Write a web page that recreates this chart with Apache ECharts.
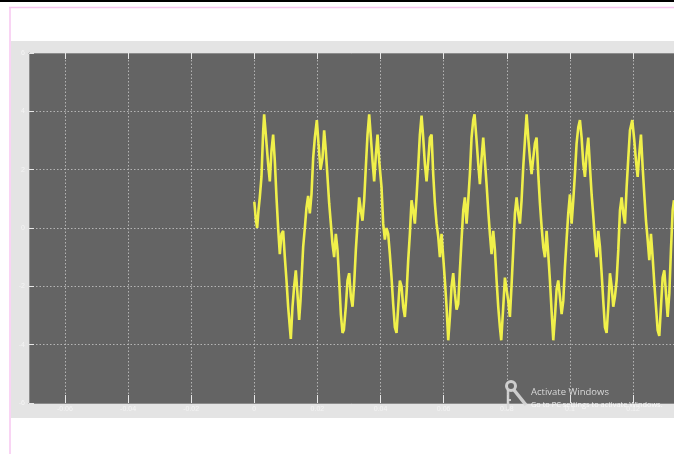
<!DOCTYPE html>
<html>
<head>
<meta charset="utf-8">
<script src="https://cdn.jsdelivr.net/npm/echarts@6/dist/echarts.min.js"></script>
<style>
html,body{margin:0;padding:0;background:#fff;}
#chart{width:674px;height:454px;}
</style>
</head>
<body>
<div id="chart"></div>
<script>
// ---- data ----
const xMin = -0.07138;
const xMax = 0.13297;
const yMin = -6;
const yMax = 6;
const yStep = 2;
const xTickValues = [-0.06, -0.04, -0.02, 0, 0.02, 0.04, 0.06, 0.08, 0.1, 0.12];
const xTickLabels = ['-0.06', '-0.04', '-0.02', '0', '0.02', '0.04', '0.06', '0.08', '0.1', '0.12'];

const timeSec = [
0.00000,0.00048,0.00090,0.00132,0.00174,0.00227,0.00280,0.00312,0.00365,0.00438,
0.00491,0.00544,0.00597,0.00650,0.00703,0.00755,0.00808,0.00861,0.00914,0.00967,
0.01020,0.01072,0.01125,0.01157,0.01210,0.01262,0.01315,0.01358,0.01421,0.01463,
0.01506,0.01548,0.01601,0.01653,0.01706,0.01759,0.01812,0.01865,0.01918,0.01981,
0.02034,0.02097,0.02161,0.02213,0.02266,0.02319,0.02372,0.02425,0.02478,0.02530,
0.02583,0.02636,0.02689,0.02742,0.02795,0.02837,0.02900,0.02953,0.03006,0.03059,
0.03112,0.03164,0.03217,0.03270,0.03323,0.03376,0.03428,0.03481,0.03534,0.03587,
0.03640,0.03693,0.03745,0.03798,0.03851,0.03904,0.03957,0.04031,0.04083,0.04136,
0.04189,0.04242,0.04295,0.04348,0.04400,0.04453,0.04506,0.04559,0.04612,0.04665,
0.04717,0.04770,0.04823,0.04876,0.04929,0.04982,0.05034,0.05087,0.05140,0.05193,
0.05246,0.05299,0.05351,0.05404,0.05457,0.05510,0.05563,0.05616,0.05668,0.05721,
0.05774,0.05827,0.05880,0.05932,0.05985,0.06038,0.06091,0.06144,0.06197,0.06249,
0.06302,0.06355,0.06408,0.06461,0.06514,0.06566,0.06619,0.06672,0.06725,0.06778,
0.06830,0.06883,0.06936,0.06978,0.07042,0.07095,0.07147,0.07200,0.07253,0.07306,
0.07359,0.07411,0.07464,0.07517,0.07570,0.07623,0.07676,0.07728,0.07781,0.07824,
0.07887,0.07940,0.07993,0.08045,0.08098,0.08151,0.08204,0.08257,0.08310,0.08362,
0.08415,0.08468,0.08521,0.08574,0.08627,0.08679,0.08732,0.08785,0.08838,0.08891,
0.08943,0.08996,0.09049,0.09102,0.09155,0.09208,0.09260,0.09313,0.09366,0.09419,
0.09472,0.09525,0.09577,0.09630,0.09683,0.09736,0.09789,0.09841,0.09894,0.09947,
0.10000,0.10053,0.10106,0.10158,0.10211,0.10264,0.10317,0.10370,0.10423,0.10475,
0.10528,0.10581,0.10634,0.10687,0.10740,0.10792,0.10845,0.10898,0.10951,0.11004,
0.11056,0.11109,0.11162,0.11215,0.11268,0.11321,0.11373,0.11426,0.11479,0.11532,
0.11585,0.11638,0.11690,0.11743,0.11796,0.11849,0.11902,0.11975,0.12039,0.12092,
0.12145,0.12197,0.12250,0.12303,0.12356,0.12409,0.12462,0.12514,0.12567,0.12620,
0.12673,0.12726,0.12779,0.12831,0.12884,0.12937,0.12990,0.13043,0.13096,0.13148,
0.13201,0.13254,0.13296
];

const voltage = [
0.9,0.3,0.0,0.6,1.05,1.75,3.3,3.9,3.2,2.2,
1.6,2.65,3.2,2.3,1.05,0.0,-0.9,-0.2,-0.1,-1.0,
-1.8,-2.7,-3.4,-3.8,-2.7,-2.0,-1.45,-2.1,-3.15,-2.5,
-1.55,-0.65,0.0,0.7,1.1,0.5,1.15,2.4,3.1,3.7,
2.9,2.0,2.4,3.35,2.65,1.75,0.85,0.15,-0.55,-1.0,
-0.2,-0.75,-1.8,-2.95,-3.6,-3.5,-2.7,-1.8,-1.55,-2.35,
-2.7,-1.9,-0.75,0.15,1.05,0.6,0.25,0.95,2.1,3.2,
3.9,3.1,2.3,1.6,2.5,3.2,2.3,1.4,0.15,-0.4,
0.0,-0.2,-0.9,-1.7,-2.6,-3.4,-3.6,-2.7,-1.8,-2.0,
-2.7,-3.05,-2.25,-1.1,-0.2,0.95,0.6,0.15,1.05,2.1,
3.2,3.85,3.1,2.2,1.6,2.3,3.1,3.2,1.85,0.85,
0.15,-0.3,-1.0,-0.2,-1.0,-1.8,-2.7,-3.85,-3.05,-2.0,
-1.55,-2.25,-2.8,-2.6,-1.45,-0.4,0.6,1.05,0.15,0.95,
1.85,3.1,3.7,3.9,3.0,2.2,1.5,2.4,3.1,2.3,
1.5,0.6,-0.2,-0.9,-0.1,-0.75,-1.8,-2.7,-3.4,-3.85,
-2.7,-1.7,-1.7,-2.5,-3.05,-1.95,-0.75,0.5,1.05,0.5,
0.15,0.95,2.1,3.0,3.9,3.1,2.4,1.85,2.4,2.9,
3.1,1.85,0.85,0.05,-0.65,-1.0,-0.1,-0.9,-1.8,-2.85,
-3.85,-3.05,-2.1,-1.8,-2.35,-2.95,-2.5,-1.35,-0.4,0.5,
1.15,0.15,0.95,1.85,2.9,3.45,3.7,3.1,2.2,1.75,
2.55,3.1,2.1,1.15,0.4,-0.4,-1.0,-0.1,-0.65,-1.55,
-2.5,-3.4,-3.6,-2.7,-1.55,-2.0,-2.7,-2.35,-1.8,-0.75,
0.6,1.05,0.5,0.15,1.4,2.4,3.35,3.7,3.0,2.3,
1.75,2.55,3.2,2.1,1.15,0.25,-0.4,-1.1,-0.2,-1.0,
-1.9,-2.7,-3.5,-3.7,-2.7,-1.7,-1.45,-2.25,-3.05,-2.25,
-0.75,0.6,0.95
];

const watermarkTitle = 'Activate Windows';
const watermarkLine = 'Go to PC settings to activate Windows.';

// ---- chart ----
const seriesData = timeSec.map((t, i) => [t, voltage[i]]);
const chart = echarts.init(document.getElementById('chart'), null, {renderer: 'canvas'});

const labelStyle = {color: '#f4f4f4', fontSize: 7, fontFamily: 'Liberation Sans'};
const wm = 'rgba(214,214,214,0.92)';

chart.setOption({
  animation: false,
  backgroundColor: '#ffffff',
  graphic: [
    {type: 'rect', z: -10, shape: {x: 0, y: 0, width: 674, height: 2}, style: {fill: '#000'}},
    {type: 'rect', z: -10, shape: {x: 11, y: 41, width: 663, height: 377}, style: {fill: '#e4e4e4'}},
    {type: 'line', z: -9, shape: {x1: 9, y1: 7.5, x2: 674, y2: 7.5}, style: {stroke: '#f7c6f0', lineWidth: 1.5}},
    {type: 'line', z: -9, shape: {x1: 10, y1: 7, x2: 10, y2: 454}, style: {stroke: '#f7c6f0', lineWidth: 1.5}},
    {type: 'circle', z: 100, shape: {cx: 511, cy: 386, r: 4.5}, style: {fill: 'none', stroke: wm, lineWidth: 3}},
    {type: 'polyline', z: 100, shape: {points: [[514, 390], [526, 405]]}, style: {stroke: wm, lineWidth: 3.5}},
    {type: 'polyline', z: 100, shape: {points: [[508, 390], [508, 409]]}, style: {stroke: wm, lineWidth: 2.5}},
    {type: 'polyline', z: 100, shape: {points: [[508, 400], [511, 400]]}, style: {stroke: wm, lineWidth: 2}},
    {type: 'text', z: 100, x: 531, y: 387, style: {text: watermarkTitle, fill: 'rgba(222,222,222,0.95)', fontSize: 9.5, fontFamily: 'Open Sans'}},
    {type: 'text', z: 100, x: 531, y: 401, style: {text: watermarkLine, fill: 'rgba(250,250,250,0.95)', fontSize: 7.4, fontFamily: 'Open Sans'}}
  ],
  grid: {
    left: 29, top: 53, right: 0, bottom: 51,
    show: true, backgroundColor: '#646464', borderWidth: 0
  },
  xAxis: [
    {
      type: 'value', min: xMin, max: xMax, position: 'bottom',
      axisLine: {show: true, onZero: false, lineStyle: {color: '#8c8c8c', width: 1}},
      axisTick: {show: true, inside: true, length: 8, customValues: xTickValues, lineStyle: {color: '#e8e8e8', width: 1}},
      axisLabel: {
        show: true, margin: 3, customValues: xTickValues, ...labelStyle,
        formatter: v => { const i = xTickValues.findIndex(x => Math.abs(x - v) < 1e-9); return i >= 0 ? xTickLabels[i] : ''; }
      },
      splitLine: {show: true, lineStyle: {color: '#b4b4b4', type: [1.5, 2], width: 1}}
    },
    {
      type: 'value', min: xMin, max: xMax, position: 'top',
      axisLine: {show: true, onZero: false, lineStyle: {color: '#8c8c8c', width: 1}},
      axisTick: {show: true, inside: true, length: 6, customValues: xTickValues, lineStyle: {color: '#e8e8e8', width: 1}},
      axisLabel: {show: false},
      splitLine: {show: false}
    }
  ],
  yAxis: {
    type: 'value', min: yMin, max: yMax, interval: yStep,
    axisLine: {show: true, onZero: false, lineStyle: {color: '#8c8c8c', width: 1}},
    axisTick: {show: true, inside: true, length: 5, lineStyle: {color: '#e8e8e8', width: 1}},
    axisLabel: {show: true, margin: 4, ...labelStyle},
    splitLine: {show: true, lineStyle: {color: '#b4b4b4', type: [1.5, 2], width: 1}}
  },
  series: [{
    type: 'line',
    xAxisIndex: 0,
    data: seriesData,
    showSymbol: false,
    sampling: 'none',
    clip: true,
    lineStyle: {color: '#f0f04a', width: 2.6},
    emphasis: {disabled: true}
  }]
});
</script>
</body>
</html>
